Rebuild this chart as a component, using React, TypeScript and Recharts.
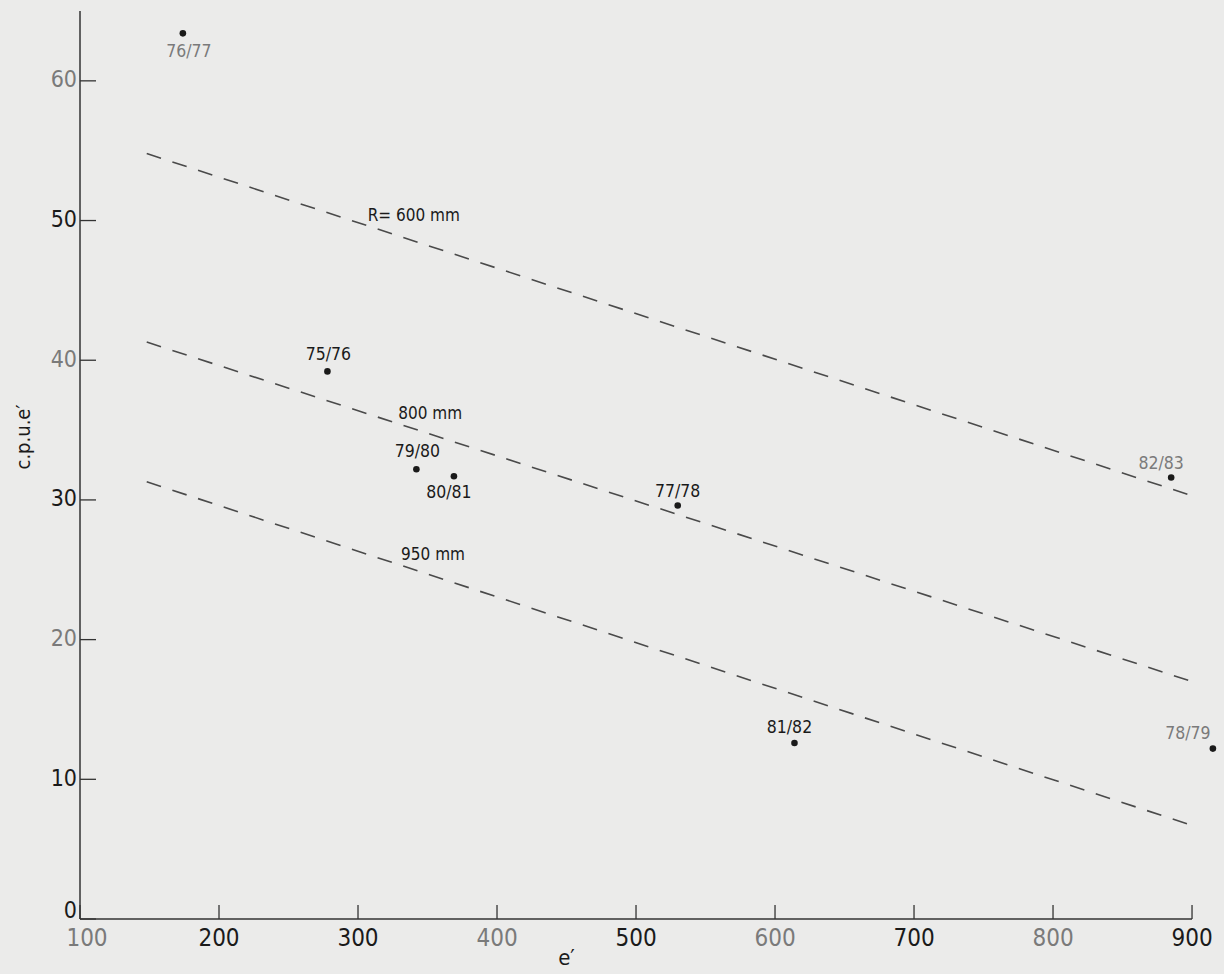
import { ScatterChart, Scatter, XAxis, YAxis, ReferenceLine, ReferenceDot, LabelList } from "recharts";

// seasons, effort (e') and catch per unit effort
const SEASONS = ["76/77", "75/76", "79/80", "80/81", "77/78", "82/83", "78/79", "81/82"];
const EFFORT = [174, 278, 342, 369, 530, 885, 915, 614];
const CPUE = [63.4, 39.2, 32.2, 31.7, 29.6, 31.6, 12.2, 12.6];

// fitted lines for three rainfall levels
const RAIN_LABELS = ["R= 600 mm", "800 mm", "950 mm"];
const RAIN_FROM_E = [148, 148, 148];
const RAIN_TO_E = [900, 900, 900];
const RAIN_FROM_CPUE = [54.8, 41.3, 31.3];
const RAIN_TO_CPUE = [30.3, 17.0, 6.7];

const X_TICKS = [100, 200, 300, 400, 500, 600, 700, 800, 900];
const Y_TICKS = [0, 10, 20, 30, 40, 50, 60];

const points = SEASONS.map((season, i) => ({ season, x: EFFORT[i], y: CPUE[i] }));

const INK = "#1a1a1a";
const FADED = "#7a7a7a";
const TICK_FONT = "'DejaVu Sans Condensed', 'DejaVu Sans', sans-serif";
const LABEL_FONT = "'DejaVu Sans Condensed', 'DejaVu Sans', sans-serif";

// where each season's label sits relative to its dot
const labelOffset: Record<string, [number, number]> = {
  "76/77": [6, 19],
  "75/76": [1, -16],
  "79/80": [1, -17],
  "80/81": [-5, 17],
  "77/78": [0, -14],
  "82/83": [-10, -14],
  "78/79": [-25, -15],
  "81/82": [-5, -15],
};
const fadedSeasons = new Set(["76/77", "82/83", "78/79"]);
const fadedTicks = new Set([100, 400, 600, 800, 40, 60, 20]);

// where each rainfall label starts along its line (in e')
const rainLabelAt = [307, 329, 331];

const XTick = (props: any) => {
  const { x, y, payload } = props;
  return (
    <g>
      <line x1={x} y1={y} x2={x} y2={y - 14} stroke="#333" strokeWidth={1.3} />
      <text
        x={x + (payload.value === 100 ? 7 : 0)}
        y={y + 20}
        textAnchor="middle"
        dominantBaseline="middle"
        fontFamily={TICK_FONT}
        fontSize={24}
        fill={fadedTicks.has(payload.value) ? FADED : INK}
      >
        {payload.value}
      </text>
    </g>
  );
};

const YTick = (props: any) => {
  const { x, y, payload } = props;
  return (
    <g>
      <line x1={x} y1={y} x2={x + 16} y2={y} stroke="#333" strokeWidth={1.3} />
      <text
        x={x - 3}
        y={payload.value === 0 ? y - 8 : y}
        textAnchor="end"
        dominantBaseline="middle"
        fontFamily={TICK_FONT}
        fontSize={23}
        fill={fadedTicks.has(payload.value) ? FADED : INK}
      >
        {payload.value}
      </text>
    </g>
  );
};

const SeasonLabel = (props: any) => {
  const { x, y, width, height, value } = props;
  const [dx, dy] = labelOffset[value] ?? [0, -15];
  return (
    <text
      x={x + width / 2 + dx}
      y={y + height / 2 + dy}
      textAnchor="middle"
      dominantBaseline="middle"
      fontFamily={LABEL_FONT}
      fontSize={17.5}
      fill={fadedSeasons.has(value) ? FADED : INK}
    >
      {value}
    </text>
  );
};

const Dot = (props: any) => <circle cx={props.cx} cy={props.cy} r={3.3} fill={INK} />;

const lineValueAt = (i: number, e: number) =>
  RAIN_FROM_CPUE[i] +
  ((e - RAIN_FROM_E[i]) * (RAIN_TO_CPUE[i] - RAIN_FROM_CPUE[i])) / (RAIN_TO_E[i] - RAIN_FROM_E[i]);

export default function App() {
  return (
    <div style={{ position: "absolute", left: 0, top: 0, width: 1224, height: 974, background: "#ebebea" }}>
      <ScatterChart width={1224} height={974} margin={{ top: 11, right: 0, bottom: 0, left: 0 }}>
        <XAxis
          type="number"
          dataKey="x"
          domain={[100, 923]}
          ticks={X_TICKS}
          interval={0}
          height={55}
          axisLine={false}
          tickLine={false}
          tickSize={0}
          tickMargin={0}
          tick={<XTick />}
          allowDataOverflow
        />
        <YAxis
          type="number"
          dataKey="y"
          domain={[0, 65]}
          ticks={Y_TICKS}
          interval={0}
          width={80}
          axisLine={{ stroke: "#333", strokeWidth: 1.5 }}
          tickLine={false}
          tickSize={0}
          tickMargin={0}
          tick={<YTick />}
          allowDataOverflow
          label={() => (
            <text
              x={24}
              y={437}
              transform="rotate(-90 24 437)"
              textAnchor="middle"
              dominantBaseline="middle"
              fontFamily={LABEL_FONT}
              fontSize={20}
              fill={INK}
            >
              c.p.u.e′
            </text>
          )}
        />
        <ReferenceLine
          segment={[{ x: 100, y: 0 }, { x: 900, y: 0 }]}
          stroke="#333"
          strokeWidth={1.5}
          ifOverflow="visible"
        />
        {RAIN_LABELS.map((label, i) => (
          <ReferenceLine
            key={label}
            segment={[
              { x: RAIN_FROM_E[i], y: RAIN_FROM_CPUE[i] },
              { x: RAIN_TO_E[i], y: RAIN_TO_CPUE[i] },
            ]}
            stroke="#4a4a4a"
            strokeWidth={1.6}
            strokeDasharray="15 12"
            ifOverflow="visible"
          />
        ))}
        {RAIN_LABELS.map((label, i) => (
          <ReferenceDot
            key={"lbl" + label}
            x={rainLabelAt[i]}
            y={lineValueAt(i, rainLabelAt[i])}
            r={0}
            stroke="none"
            fill="none"
            ifOverflow="visible"
            label={(p: any) => (
              <text
                x={p.viewBox.x + p.viewBox.width / 2}
                y={p.viewBox.y + p.viewBox.height / 2 - 5}
                fontFamily={LABEL_FONT}
                fontSize={17}
                fill={INK}
              >
                {label}
              </text>
            )}
          />
        ))}
        <Scatter data={points} shape={<Dot />} isAnimationActive={false}>
          <LabelList dataKey="season" content={<SeasonLabel />} />
        </Scatter>
        {/* x-axis title, anchored in e' units below the axis */}
        <ReferenceDot
          x={450}
          y={0}
          r={0}
          stroke="none"
          fill="none"
          ifOverflow="visible"
          label={(p: any) => (
            <text
              x={p.viewBox.x + p.viewBox.width / 2}
              y={p.viewBox.y + 40}
              textAnchor="middle"
              dominantBaseline="middle"
              fontFamily={LABEL_FONT}
              fontSize={22}
              fill={INK}
            >
              e′
            </text>
          )}
        />
      </ScatterChart>
    </div>
  );
}
